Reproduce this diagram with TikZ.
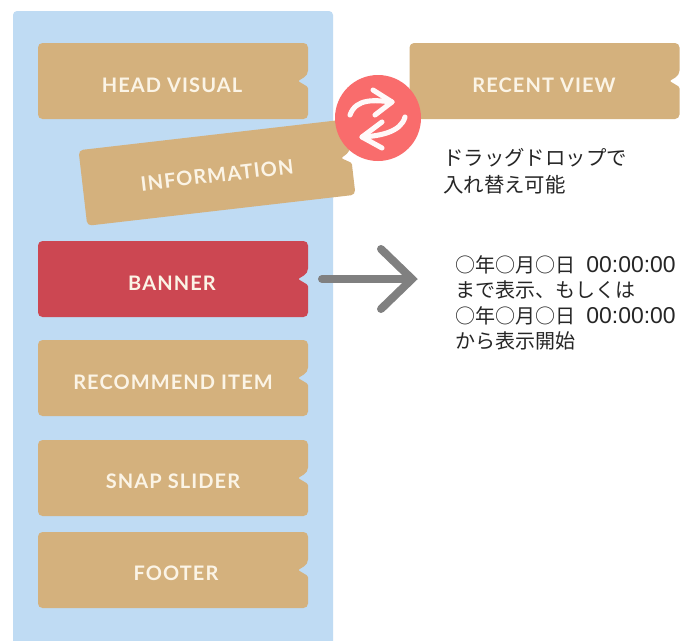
\documentclass[tikz,border=0pt]{standalone}
\usepackage{fontspec}
\newfontfamily\labfont[LetterSpace=5.5]{Lato Bold}
\newfontfamily\cjkfont{Noto Sans CJK JP}
\newfontfamily\latfont{Liberation Sans}
\newcommand{\clocktext}{{\latfont\fontsize{17.2}{19}\selectfont\ \hspace{3.6pt}00:00:00}}
\definecolor{panelblue}{HTML}{BFDBF3}
\definecolor{tagtan}{HTML}{D4B17D}
\definecolor{tagred}{HTML}{CC4752}
\definecolor{badge}{HTML}{F96C6C}
\definecolor{labelcol}{HTML}{FBF4E6}
\definecolor{arrowgray}{HTML}{808080}
\tikzset{
  tagshape/.pic={
    \path[pic actions, rounded corners=4.5*0.75pt]
      (-135,-38) -- (135,-38) -- (135,-6) [rounded corners=1pt] -- (125,0) -- (135,6) [rounded corners=4.5*0.75pt] -- (135,38) -- (-135,38) -- cycle;
  },
  taglabel/.style={font=\labfont\fontsize{15}{18}\selectfont, text=labelcol, inner sep=0pt},
  jptext/.style={font=\cjkfont\fontsize{15}{19.1}\selectfont, text=black!85, inner sep=0pt, anchor=north west, align=left},
  icon/.style={draw=white!95!badge, line width=3.8pt, line cap=round, line join=round},
}
\begin{document}
\begin{tikzpicture}[x=0.75pt,y=-0.75pt]
\useasboundingbox (0,0) rectangle (681,640);
\fill[white] (0,0) rectangle (681,640);
\begin{scope}
\clip (0,0) rectangle (681,640);
\fill[panelblue, rounded corners=3pt] (13,11) rectangle (333,660);
\end{scope}
\pic[fill=tagtan] at (173,81) {tagshape};
\node[taglabel] (head) at (172,85) {HEAD VISUAL};
\pic[fill=tagred] at (173,279) {tagshape};
\node[taglabel] (banner) at (172,283) {BANNER};
\pic[fill=tagtan] at (173,378) {tagshape};
\node[taglabel] (recommend) at (173,382) {RECOMMEND ITEM};
\pic[fill=tagtan] at (173,478) {tagshape};
\node[taglabel] (snap) at (173,481) {SNAP SLIDER};
\pic[fill=tagtan] at (173,570) {tagshape};
\node[taglabel] (footer) at (176,573) {FOOTER};
\pic[fill=tagtan] at (544.5,81) {tagshape};
\node[taglabel] (recent) at (544,85) {RECENT VIEW};
\pic[fill=tagtan, rotate=6.6] at (217,172.5) {tagshape};
\node[taglabel, rotate=6.6] (info) at (217,175) {INFORMATION};
\node[circle, fill=badge, minimum size=64.5pt, inner sep=0pt] (swap) at (378,118) {};
\draw[icon] (350,115) .. controls (356,98) and (375,100) .. (392,102);
\draw[icon] (373,90) -- (392,102) -- (375,115);
\draw[icon] (405,117) .. controls (401,132) and (380,136) .. (362,137);
\draw[icon] (382,122) -- (362,137) -- (382,148);
\node[jptext, font=\cjkfont\fontsize{15.3}{20}\selectfont] (dragnote) at (443,148) {ドラッグドロップで\\入れ替え可能};
\coordinate (arrowstart) at (322,279);
\coordinate (arrowtip) at (412,279);
\coordinate (headtop) at (381,249);
\coordinate (headbottom) at (381,309);
\draw[arrowgray, line width=6pt, line cap=round, line join=round] (arrowstart) -- (arrowtip);
\draw[arrowgray, line width=6pt, line cap=round, line join=miter] (headtop) -- (arrowtip) -- (headbottom);
\node[jptext] (datenote) at (455,255) {○年○月○日\clocktext\\まで表示、もしくは\\○年○月○日\clocktext\\から表示開始};
\end{tikzpicture}
\end{document}
